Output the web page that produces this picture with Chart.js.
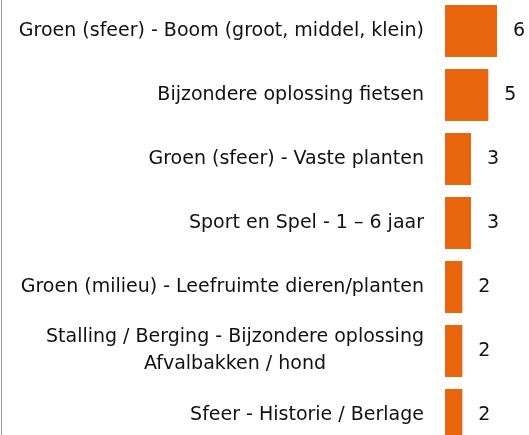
<!DOCTYPE html>
<html>
<head>
<meta charset="utf-8">
<script src="https://cdn.jsdelivr.net/npm/chart.js@4"></script>
<style>
  html, body { margin: 0; padding: 0; background: #fff; overflow: hidden; }
  #wrap {
    position: absolute; left: 1px; top: -1px;
    width: 528px; height: 448px;
    border-left: 1px solid #9c9c9c;
  }
</style>
</head>
<body>
<div id="wrap"><canvas id="myChart"></canvas></div>
<script>
var categories = [
    'Groen (sfeer) - Boom (groot, middel, klein)',
    'Bijzondere oplossing fietsen',
    'Groen (sfeer) - Vaste planten',
    'Sport en Spel - 1 \u2013 6 jaar',
    'Groen (milieu) - Leefruimte dieren/planten',
    ['Stalling / Berging - Bijzondere oplossing', 'Afvalbakken / hond'],
    'Sfeer - Historie / Berlage'
];
var counts = [6, 5, 3, 3, 2, 2, 2];

var fontFamily = '"DejaVu Sans", Verdana, sans-serif';
var fontSize = 19;
var textColor = '#111111';
var barColor = '#e8660e';

// labels left of the bars, multi-line labels centred on their widest line
var categoryLabels = {
    id: 'categoryLabels',
    afterDraw: function (chart) {
        var ctx = chart.ctx;
        var yScale = chart.scales.y;
        var right = chart.chartArea.left - 21;
        ctx.save();
        ctx.font = fontSize + 'px ' + fontFamily;
        ctx.fillStyle = textColor;
        ctx.textBaseline = 'middle';
        categories.forEach(function (label, i) {
            var y = yScale.getPixelForValue(i);
            if (Array.isArray(label)) {
                var widest = 0;
                label.forEach(function (l) {
                    widest = Math.max(widest, ctx.measureText(l).width);
                });
                var lineHeight = 27;
                var top = y - (label.length - 1) * lineHeight / 2;
                ctx.textAlign = 'center';
                label.forEach(function (l, j) {
                    ctx.fillText(l, right - widest / 2, top + j * lineHeight);
                });
            } else {
                ctx.textAlign = 'right';
                ctx.fillText(label, right, y);
            }
        });
        ctx.restore();
    }
};

// value next to each bar
var valueLabels = {
    id: 'valueLabels',
    afterDatasetsDraw: function (chart) {
        var ctx = chart.ctx;
        var meta = chart.getDatasetMeta(0);
        ctx.save();
        ctx.font = fontSize + 'px ' + fontFamily;
        ctx.fillStyle = textColor;
        ctx.textAlign = 'left';
        ctx.textBaseline = 'middle';
        meta.data.forEach(function (bar, i) {
            ctx.fillText(String(counts[i]), bar.x + 16, bar.y);
        });
        ctx.restore();
    }
};

var ctx = document.getElementById('myChart').getContext('2d');
var myChart = new Chart(ctx, {
    type: 'bar',
    data: {
        labels: categories,
        datasets: [{
            data: counts,
            backgroundColor: barColor,
            borderWidth: 0,
            categoryPercentage: 0.81,
            barPercentage: 1
        }]
    },
    options: {
        indexAxis: 'y',
        responsive: true,
        maintainAspectRatio: false,
        animation: false,
        layout: {
            padding: { left: 443, right: 7, top: 0, bottom: 0 }
        },
        plugins: {
            legend: { display: false },
            tooltip: { enabled: false }
        },
        scales: {
            x: {
                display: false,
                min: 0,
                max: 9
            },
            y: {
                display: false
            }
        }
    },
    plugins: [categoryLabels, valueLabels]
});
</script>
</body>
</html>
